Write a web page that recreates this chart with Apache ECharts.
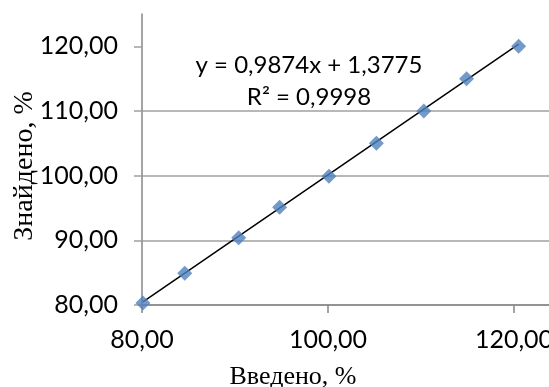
<!DOCTYPE html>
<html><head><meta charset="utf-8">
<script src="https://cdn.jsdelivr.net/npm/echarts@6/dist/echarts.min.js"></script>
<style>html,body{margin:0;padding:0;background:#fff}#c{width:549px;height:387px}</style>
</head><body><div id="c"></div>
<script>
var introduced = [80.1, 84.6, 90.4, 94.8, 100.1, 105.2, 110.3, 114.9, 120.5];
var found = [80.3, 84.9, 90.4, 95.1, 99.9, 105.0, 110.0, 115.0, 120.0];
var slope = 0.9874, intercept = 1.3775;
var equationText = 'y = 0,9874x + 1,3775';
var r2Text = 'R² = 0,9998';
var xTitle = 'Введено, %';
var yTitle = 'Знайдено, %';
var yTicks = [80, 90, 100, 110, 120];

var pts = introduced.map(function(x, i){ return [x, found[i]]; });
var xmin = Math.min.apply(null, introduced), xmax = Math.max.apply(null, introduced);
var trend = [[xmin, slope*xmin+intercept], [xmax, slope*xmax+intercept]];
function fmt(v){ return v.toFixed(2).replace('.', ','); }
var labelFont = 'Lato';
var chart = echarts.init(document.getElementById('c'));
chart.setOption({
  animation: false,
  grid: {left: 142, top: 14, height: 291, width: 558, containLabel: false, outerBoundsMode: 'none'},
  xAxis: {
    type: 'value', min: 80, max: 140, interval: 20,
    axisLine: {show: true, lineStyle: {color: '#868686', width: 1.5}},
    axisTick: {show: true, length: 8, lineStyle: {color: '#868686', width: 1.5}},
    axisLabel: {formatter: fmt, margin: 22, fontFamily: labelFont, fontSize: 25, color: '#000'},
    splitLine: {show: false}
  },
  yAxis: {
    type: 'value', min: 80, max: 125, interval: 10,
    axisLine: {show: true, lineStyle: {color: '#868686', width: 1.5}},
    axisTick: {show: true, length: 8, customValues: yTicks, lineStyle: {color: '#a0a0a0', width: 1.5}},
    axisLabel: {formatter: fmt, margin: 24, customValues: yTicks, fontFamily: labelFont, fontSize: 25, color: '#000'},
    splitLine: {show: true, showMaxLine: false, lineStyle: {color: '#a0a0a0', width: 1.5}}
  },
  graphic: [
    {type: 'text', x: 309, y: 65, style: {text: equationText, align: 'center', verticalAlign: 'middle', font: '24px Lato', fill: '#000'}},
    {type: 'text', x: 309, y: 97, style: {text: r2Text, align: 'center', verticalAlign: 'middle', font: '24px Lato', fill: '#000'}},
    {type: 'text', x: 293, y: 377, style: {text: xTitle, align: 'center', verticalAlign: 'middle', font: '26px "Liberation Serif"', fill: '#000'}},
    {type: 'text', x: 25, y: 166, rotation: Math.PI / 2, style: {text: yTitle, align: 'center', verticalAlign: 'middle', font: '28px "Liberation Serif"', fill: '#000'}}
  ],
  series: [
    {type: 'line', data: trend, symbol: 'none', lineStyle: {color: '#000', width: 1.5}, z: 2},
    {type: 'scatter', data: pts, symbol: 'diamond', symbolSize: 15, itemStyle: {color: '#4F81BD'}, z: 3}
  ]
});
</script></body></html>
